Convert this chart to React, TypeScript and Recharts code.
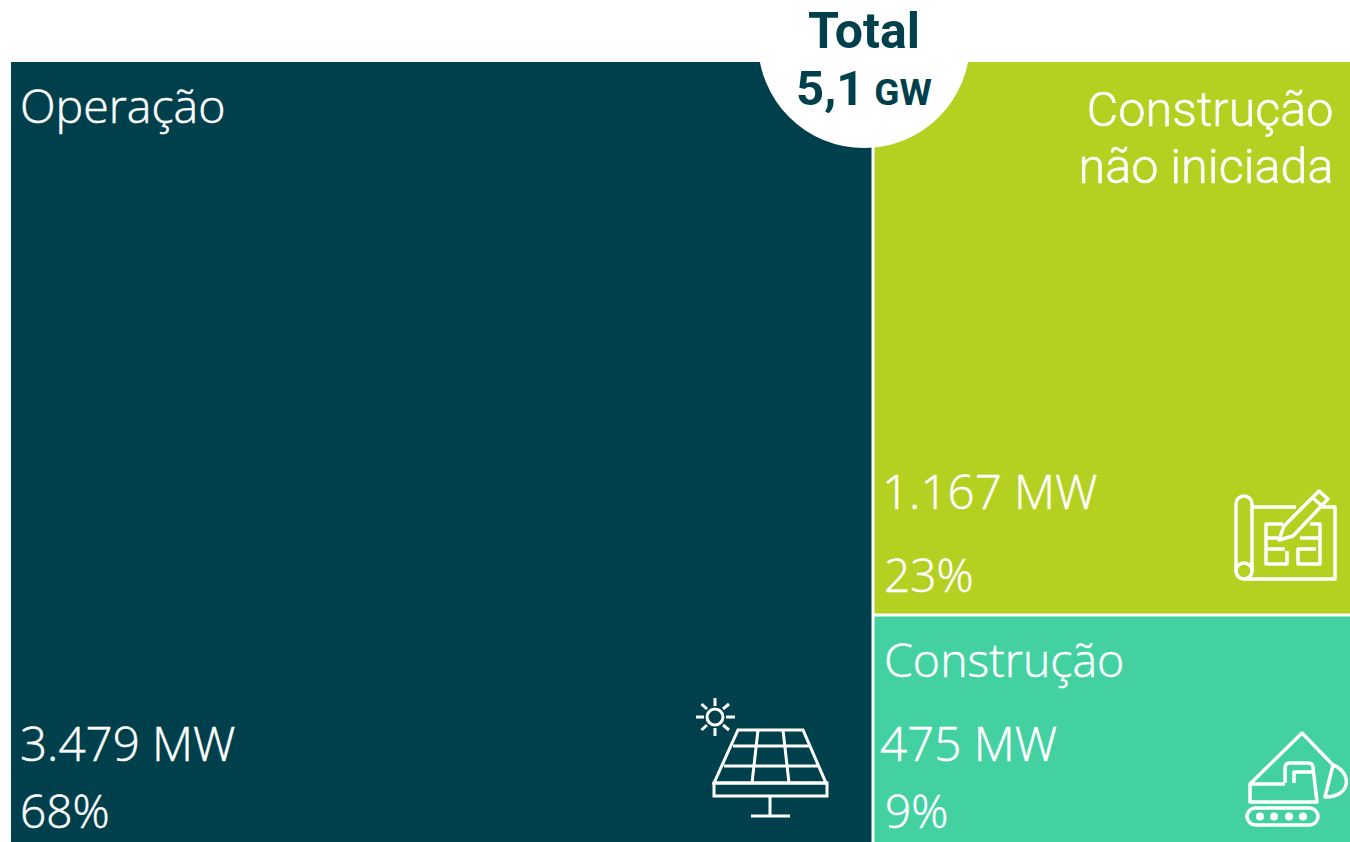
import React from "react";
import { Treemap } from "recharts";

const categories = ["Operação", "Construção não iniciada", "Construção"];
const powerLabels = ["3.479 MW", "1.167 MW", "475 MW"];
const shareLabels = ["68%", "23%", "9%"];
// Areas as drawn in the picture (not strictly proportional to MW)
const drawnAreas = [643.4, 252.6, 104.0];
const colors = ["#00404c", "#b4d122", "#43d1a2"];
const totalLabel = "Total";
const totalValue = "5,1";
const totalUnit = "GW";

const data = categories.map((name, i) => ({
  name,
  size: drawnAreas[i],
  idx: i,
}));

const OX = 11;
const OY = 62;
const NAVY = "#00404c";
const ROBOTO = "Roboto, sans-serif";
const OPEN = "'Open Sans', sans-serif";

const SolarIcon = () => (
  <g stroke="#fff" strokeWidth={3} fill="none">
    <circle cx={715} cy={717} r={8} />
    <path d="M715 698V706M715 728V736M696 717H704M726 717H735M701.500 704L707 709M723 725L729 730M729 704L723 709M707 725L701.500 730" />
    <path d="M738 730H803L826 783H714Z" />
    <path d="M714 783H827V796H714Z" />
    <path d="M733 746H810M724 766H818M758 730L752 783M783 730L789 783" />
    <path d="M770 796V816M751 816H790" />
  </g>
);

const PlanIcon = () => (
  <g stroke="#fff" strokeWidth={3.5} fill="none" strokeLinejoin="round">
    <path d="M1236 571V504A8 8 0 0 1 1252 504V571" />
    <circle cx={1244} cy={571} r={8} />
    <path d="M1244 579H1335V507H1322M1252 507H1296" />
    <path d="M1319 491L1328 499L1293 536L1279 540L1284 526Z" />
    <path d="M1313 498L1322 506" />
    <path d="M1283 524H1266V564H1287V551M1266 538H1278M1266 549H1285M1310 524H1320V564H1298V549H1316M1300 538H1320" />
  </g>
);

const ExcavatorIcon = () => (
  <g stroke="#fff" strokeWidth={3.5} fill="none" strokeLinejoin="round">
    <path d="M1250 784L1302 733L1333 765" />
    <path d="M1333 765C1352 772 1352 797 1325 797Z" />
    <path d="M1285 783V768Q1285 763 1290 763H1308Q1313 763 1313 768L1317 802H1250V784H1285" />
    <path d="M1294 783V772H1312" />
    <rect x={1247} y={808} width={71} height={17} rx={8.5} />
    <g fill="#fff" stroke="none">
      <circle cx={1260} cy={816.500} r={4} />
      <circle cx={1274} cy={816.500} r={4} />
      <circle cx={1289} cy={816.500} r={4} />
      <circle cx={1303} cy={816.500} r={4} />
    </g>
  </g>
);

const Cell = (props: any) => {
  const { x, y, width, height, idx } = props;
  if (idx === undefined) return null;
  const left = idx === 0 ? x : x + 1.5;
  const right = idx === 0 ? x + width - 1.5 : x + width;
  const top = idx === 2 ? y + 1.5 : y;
  const bottom = idx === 1 ? y + height - 1.5 : y + height;
  const tx = (v: number) => v - OX;
  const ty = (v: number) => v - OY;
  return (
    <g>
      <rect x={left} y={top} width={right - left} height={bottom - top} fill={colors[idx]} stroke="none" />
      <g fill="#fff" stroke="#fff" strokeWidth={0.5} fontWeight={300}>
        {idx === 0 && (
          <>
            <text x={tx(20)} y={ty(123)} fontFamily={OPEN} fontSize={46.5}>Operação</text>
            <text x={tx(20)} y={ty(761)} fontFamily={OPEN} fontSize={47.5}>{powerLabels[0]}</text>
            <text x={tx(20)} y={ty(828)} fontFamily={OPEN} fontSize={46}>{shareLabels[0]}</text>
          </>
        )}
        {idx === 1 && (
          <>
            <text x={tx(1333.5)} y={ty(126)} textAnchor="end" fontFamily={ROBOTO} fontSize={48.5}>Construção</text>
            <text x={tx(1333.5)} y={ty(183)} textAnchor="end" fontFamily={ROBOTO} fontSize={48.5}>não iniciada</text>
            <text x={tx(882)} y={ty(509)} fontFamily={OPEN} fontSize={47.5}>{powerLabels[1]}</text>
            <text x={tx(884)} y={ty(592)} fontFamily={OPEN} fontSize={46}>{shareLabels[1]}</text>
          </>
        )}
        {idx === 2 && (
          <>
            <text x={tx(884)} y={ty(677)} fontFamily={OPEN} fontSize={46.5}>Construção</text>
            <text x={tx(880)} y={ty(761)} fontFamily={OPEN} fontSize={47.5}>{powerLabels[2]}</text>
            <text x={tx(885)} y={ty(828)} fontFamily={OPEN} fontSize={46}>{shareLabels[2]}</text>
          </>
        )}
      </g>
    </g>
  );
};

export default function App() {
  return (
    <div style={{ position: "absolute", left: 0, top: 0, width: 1350, height: 842, overflow: "hidden", background: "#fff" }}>
      <div style={{ position: "absolute", left: OX, top: OY }}>
        <Treemap
          width={1339}
          height={780}
          data={data}
          dataKey="size"
          nameKey="name"
          aspectRatio={1}
          stroke="none"
          isAnimationActive={false}
          content={<Cell />}
        />
      </div>
      <svg width={1350} height={842} style={{ position: "absolute", left: 0, top: 0, pointerEvents: "none" }}>
        <SolarIcon />
        <PlanIcon />
        <ExcavatorIcon />
        <circle cx={864} cy={42} r={106} fill="#fff" />
        <text x={864} y={48} textAnchor="middle" fontFamily={ROBOTO} fontWeight={700} fontSize={50} fill={NAVY}>{totalLabel}</text>
        <text x={864} y={105} textAnchor="middle" fontFamily={ROBOTO} fontWeight={700} fill={NAVY}>
          <tspan fontSize={49}>{totalValue}</tspan>
          <tspan fontSize={37} dx={10}>{totalUnit}</tspan>
        </text>
      </svg>
    </div>
  );
}
